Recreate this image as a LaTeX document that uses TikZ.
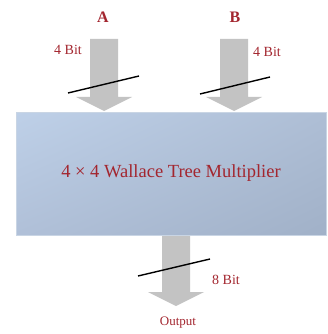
\documentclass[tikz,border=0pt]{standalone}
\usepackage{fontspec}
\setmainfont{Liberation Serif}
\usetikzlibrary{shadings}
\definecolor{labelred}{HTML}{A3262F}
\definecolor{arrowgray}{HTML}{C3C3C3}
\definecolor{boxedge}{HTML}{C9D5E4}
\definecolor{boxul}{HTML}{BED0E8}
\definecolor{boxur}{HTML}{AEBED5}
\definecolor{boxll}{HTML}{B0C0D8}
\definecolor{boxlr}{HTML}{A1B1C8}

% block arrow: centre x, top y, tip y
\newcommand{\bigarrow}[3]{%
  \fill[arrowgray] (#1-14,#2) -- (#1+14,#2) -- (#1+14,#3-14) -- (#1+28,#3-14)
    -- (#1,#3) -- (#1-28,#3-14) -- (#1-14,#3-14) -- cycle;}

\begin{document}
\begin{tikzpicture}[x=1pt, y=-1pt,
    lbl/.style={text=labelred, inner sep=0pt, font=\fontsize{14}{15}\selectfont},
    port/.style={text=labelred, inner sep=0pt, font=\fontsize{16}{17}\selectfont\bfseries},
    slash/.style={black, line width=1.4pt},
    multbox/.style={draw=boxedge, line width=0.6pt, minimum width=310pt, minimum height=123pt,
      upper left=boxul, upper right=boxur, lower left=boxll, lower right=boxlr,
      text=labelred, font=\fontsize{18.5}{20}\selectfont}]
    \useasboundingbox (0,0) rectangle (328,334);
    \bigarrow{104}{39}{111}
    \bigarrow{234}{39}{111}
    \bigarrow{176}{235}{306}
    \node[port] (a) at (103,17) {A};
    \node[port] (b) at (235,17) {B};
    \node[lbl, anchor=west] (abits) at (54,50) {4 Bit};
    \node[lbl, anchor=west] (bbits) at (253,52) {4 Bit};
    \draw[slash] (68,93) -- (139,76);
    \draw[slash] (200,94) -- (270,77);
    \node[multbox] (mult) at (171,173.5) {4 × 4 Wallace Tree Multiplier};
    \draw[slash] (138,276) -- (210,259);
    \node[lbl, anchor=west] (obits) at (212,280) {8 Bit};
    \node[lbl, font=\fontsize{13}{14}\selectfont] (out) at (178,323) {Output};
  \end{tikzpicture}
\end{document}
